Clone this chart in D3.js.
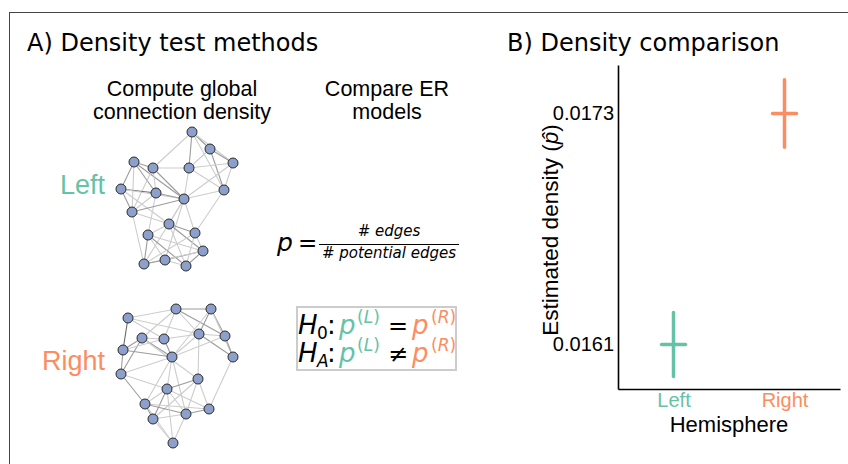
<!DOCTYPE html>
<html lang="en">
<head>
    <meta charset="UTF-8">
    <style>
        body { margin: 0; background: #fff; }
        svg text { fill: #000; }
        .sans { font-family: "Liberation Sans", Arial, sans-serif; }
        .dv { font-family: "DejaVu Sans", sans-serif; }
        .axis text { font-family: "Liberation Sans", Arial, sans-serif; font-size: 20px; }
        .axis path { stroke: #000; stroke-width: 1.6px; }
    </style>
    <script src="https://d3js.org/d3.v7.min.js"></script>
    <title>Density test</title>
</head>
<body>
    <svg width="848" height="464"></svg>

    <script>

        // ---- data ----
        var hemispheres = ["Left", "Right"];
        var densityEstimates = [0.01610, 0.01733];
        var ciLower = [0.01593, 0.01715];
        var ciUpper = [0.01627, 0.01751];

        // network layouts (local layout units)
        var leftNodes = [[72,2],[90,19],[113,33],[14,32],[33,38],[69,38],[1,59],[36,63],[64,69],
                         [104,60],[12,82],[49,94],[75,103],[28,105],[83,121],[45,130],[24,134],[66,136]];
        var leftEdges = [[0,1,2],[0,2,1],[0,5,2],[0,4,1],[0,9,1],[1,2,2],[1,5,1],[1,9,2],[2,9,1],[2,5,1],[2,8,1],
                         [3,4,2],[3,6,2],[3,7,2],[3,8,2],[3,10,1],[4,8,2],[4,7,1],[4,10,1],[4,5,1],[5,8,1],[5,9,1],
                         [6,7,3],[6,10,2],[6,8,1],[6,11,1],[7,8,2],[7,10,1],[7,13,1],[8,9,1],[8,10,2],[8,12,1],
                         [8,11,1],[8,15,1],[8,16,1],[9,12,1],[10,16,1],[10,11,1],[11,12,2],[11,14,2],[11,17,1],
                         [11,13,1],[12,14,1],[13,14,1],[13,16,2],[13,17,2],[13,15,1],[14,15,2],[14,16,1],
                         [15,17,1],[15,16,2],[14,17,2],[12,17,1],[12,16,1]];
        var rightNodes = [[56,4],[91,4],[8,13],[22,33],[44,34],[79,29],[105,31],[3,45],[52,52],
                          [113,52],[1,69],[78,74],[47,84],[25,99],[89,104],[66,109],[33,114],[53,138]];
        var rightEdges = [[0,1,2],[0,2,1],[0,5,1],[0,6,2],[0,4,1],[0,3,1],[1,5,2],[1,6,2],[1,9,1],[1,8,1],
                          [2,7,3],[2,4,1],[2,5,1],[3,7,2],[3,4,1],[3,8,2],[3,10,2],[3,11,1],[4,5,1],[4,8,2],
                          [4,7,1],[5,6,1],[5,9,2],[5,8,1],[5,11,1],[6,9,2],[6,8,1],[7,10,2],[7,8,2],[8,10,1],
                          [8,12,1],[8,15,1],[8,13,1],[9,14,1],[10,13,2],[10,12,1],[11,12,2],[11,14,1],[11,15,1],
                          [11,16,1],[12,13,1],[12,16,2],[12,15,1],[12,14,1],[13,15,2],[13,16,2],[13,14,1],
                          [14,15,2],[15,16,1],[16,17,1],[15,17,1],[12,17,1],[13,17,1]];

        var green = "#66c2a5", orange = "#fc8d62";
        var hemiColor = d3.scaleOrdinal().domain(hemispheres).range([green, orange]);

        var svg = d3.select("svg");

        // outer frame (only top and left edges visible)
        svg.append("rect")
           .attr("x", 9.5).attr("y", 12.5)
           .attr("width", 900).attr("height", 500)
           .attr("fill", "none").attr("stroke", "#444").attr("stroke-width", 1);

        // panel titles
        svg.append("text").attr("class", "dv").attr("x", 27).attr("y", 51)
           .style("font-size", "24px").text("A) Density test methods");
        svg.append("text").attr("class", "dv").attr("x", 507).attr("y", 51)
           .style("font-size", "24px").text("B) Density comparison");

        // ---- panel A ----
        var colHeads = [["Compute global", "connection density", 182], ["Compare ER", "models", 387]];
        colHeads.forEach(function(h) {
            var t = svg.append("text").attr("class", "sans")
                       .attr("text-anchor", "middle").style("font-size", "21.5px");
            t.append("tspan").attr("x", h[2]).attr("y", 96).text(h[0]);
            t.append("tspan").attr("x", h[2]).attr("y", 119).text(h[1]);
        });

        svg.append("text").attr("class", "sans").attr("x", 105).attr("y", 194)
           .attr("text-anchor", "end").style("font-size", "27px").style("fill", green).text("Left");
        svg.append("text").attr("class", "sans").attr("x", 105).attr("y", 370)
           .attr("text-anchor", "end").style("font-size", "27px").style("fill", orange).text("Right");

        var edgeColor = d3.scaleOrdinal().domain([1, 2, 3]).range(["#cdcdcd", "#9c9c9c", "#6a6a6a"]);

        function drawNetwork(nodes, edges, x0, y0) {
            var sx = d3.scaleLinear().domain([0, 120]).range([x0, x0 + 120]);
            var sy = d3.scaleLinear().domain([0, 140]).range([y0, y0 + 140]);
            var g = svg.append("g");
            g.selectAll("line").data(edges).enter().append("line")
             .attr("x1", function(e) { return sx(nodes[e[0]][0]); })
             .attr("y1", function(e) { return sy(nodes[e[0]][1]); })
             .attr("x2", function(e) { return sx(nodes[e[1]][0]); })
             .attr("y2", function(e) { return sy(nodes[e[1]][1]); })
             .attr("stroke", function(e) { return edgeColor(e[2]); })
             .attr("stroke-width", 1.1);
            g.selectAll("circle").data(nodes).enter().append("circle")
             .attr("cx", function(d) { return sx(d[0]); })
             .attr("cy", function(d) { return sy(d[1]); })
             .attr("r", 5)
             .attr("fill", "#8da0cb").attr("stroke", "#2a2a2a").attr("stroke-width", 1);
        }
        drawNetwork(leftNodes, leftEdges, 120, 130);
        drawNetwork(rightNodes, rightEdges, 120, 305);

        // density formula
        svg.append("text").attr("class", "dv").attr("x", 277).attr("y", 251)
           .style("font-size", "25px").style("font-style", "italic").text("p");
        svg.append("text").attr("class", "dv").attr("x", 298).attr("y", 251)
           .style("font-size", "23px").text("=");
        svg.append("line").attr("x1", 319).attr("x2", 459).attr("y1", 244.5).attr("y2", 244.5)
           .attr("stroke", "#000").attr("stroke-width", 1.2);
        svg.append("text").attr("class", "dv").attr("x", 389).attr("y", 236)
           .attr("text-anchor", "middle").style("font-size", "15px").style("font-style", "italic")
           .text("# edges");
        svg.append("text").attr("class", "dv").attr("x", 389).attr("y", 258)
           .attr("text-anchor", "middle").style("font-size", "15px").style("font-style", "italic")
           .text("# potential edges");

        // hypotheses box
        svg.append("rect").attr("x", 297).attr("y", 307).attr("width", 159).attr("height", 63)
           .attr("fill", "none").attr("stroke", "#cccccc").attr("stroke-width", 2);

        var hypLines = [["0", "=", 334], ["A", "\u2260", 362]];
        hypLines.forEach(function(h) {
            var by = h[2];
            var t = svg.append("text").attr("class", "dv").style("font-size", "26px");
            t.append("tspan").attr("x", 298).attr("y", by).style("font-style", "italic").text("H");
            t.append("tspan").attr("x", 317).attr("y", by + 5).style("font-size", "17px")
             .style("font-style", h[0] === "A" ? "italic" : "normal").text(h[0]);
            t.append("tspan").attr("x", 327).attr("y", by).text(":");
            t.append("tspan").attr("x", 339).attr("y", by).style("font-style", "italic")
             .style("fill", green).text("p");
            t.append("tspan").attr("x", 357).attr("y", by - 11).style("font-size", "17px")
             .style("fill", green).html("(<tspan style='font-style:italic'>L</tspan>)");
            t.append("tspan").attr("x", 388).attr("y", by).style("font-size", "24px").text(h[1]);
            t.append("tspan").attr("x", 412).attr("y", by).style("font-style", "italic")
             .style("fill", orange).text("p");
            t.append("tspan").attr("x", 431).attr("y", by - 11).style("font-size", "17px")
             .style("fill", orange).html("(<tspan style='font-style:italic'>R</tspan>)");
        });

        // ---- panel B ----
        var x = d3.scalePoint().domain(hemispheres).range([618, 840]).padding(0.5);
        var y = d3.scaleLinear().domain([0.015863, 0.017588]).range([389, 65]);

        var yAxis = svg.append("g").attr("class", "axis")
                       .attr("transform", "translate(618,0)")
                       .call(d3.axisLeft(y).tickValues(densityEstimates).tickFormat(d3.format(".4f"))
                             .tickSize(0).tickPadding(4));
        var xAxis = svg.append("g").attr("class", "axis")
                       .attr("transform", "translate(0,389)")
                       .call(d3.axisBottom(x).tickSize(0).tickPadding(4));
        xAxis.selectAll(".tick text").style("fill", function(d) { return hemiColor(d); });

        svg.append("text").attr("class", "sans")
           .attr("x", 729).attr("y", 432).attr("text-anchor", "middle")
           .style("font-size", "22px").text("Hemisphere");

        var yl = svg.append("text").attr("class", "sans")
                    .attr("transform", "translate(558,230) rotate(-90)")
                    .attr("text-anchor", "middle").style("font-size", "22.5px");
        yl.append("tspan").text("Estimated density (");
        yl.append("tspan").style("font-style", "italic").text("p\u0302");
        yl.append("tspan").text(")");

        var est = hemispheres.map(function(h, i) {
            return { h: h, p: densityEstimates[i], lo: ciLower[i], hi: ciUpper[i] };
        });
        var marks = svg.selectAll(".est").data(est).enter().append("g").attr("class", "est")
                       .attr("stroke", function(d) { return hemiColor(d.h); })
                       .attr("stroke-width", 3.5).attr("stroke-linecap", "round");
        marks.append("line")
             .attr("x1", function(d) { return x(d.h); }).attr("x2", function(d) { return x(d.h); })
             .attr("y1", function(d) { return y(d.lo); }).attr("y2", function(d) { return y(d.hi); });
        marks.append("line")
             .attr("x1", function(d) { return x(d.h) - 12; }).attr("x2", function(d) { return x(d.h) + 12; })
             .attr("y1", function(d) { return y(d.p); }).attr("y2", function(d) { return y(d.p); });

    </script>
</body>
</html>
